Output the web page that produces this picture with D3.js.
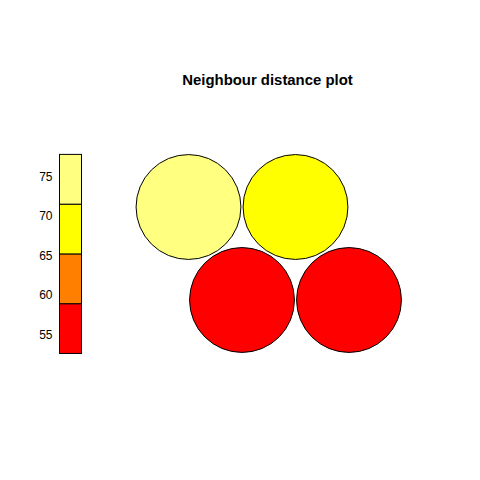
<!DOCTYPE html>
<html><head><meta charset="utf-8">
<script src="https://cdn.jsdelivr.net/npm/d3@7"></script>
<style>body{margin:0;background:#fff}svg{display:block}</style>
</head><body>
<script>
// data
const unitX = [1.5, 2.5, 1, 2];
const unitY = [0.866, 0.866, 1.732, 1.732];
const unitDist = [52.6, 53.5, 77.8, 70.1];
const palette = ["#FF0000", "#FF8000", "#FFFF00", "#FFFF80"];
const legendTicks = [55, 60, 65, 70, 75];
const title = "Neighbour distance plot";

const W = 480, H = 480;
const svg = d3.select("body").append("svg").attr("width", W).attr("height", H);
svg.append("rect").attr("width", W).attr("height", H).attr("fill", "#fff");

const x = d3.scaleLinear().domain([1, 2]).range([188.5, 295.5]);
const y = d3.scaleLinear().domain([0.866, 1.732]).range([300, 207]);
const r = x(1.49) - x(1);

const ext = d3.extent(unitDist);
const nb = palette.length;
const bins = d3.range(nb + 1).map(i => ext[0] + (ext[1] - ext[0]) * i / nb);
const colorOf = v => palette[Math.min(nb - 1, Math.floor((v - ext[0]) / (ext[1] - ext[0]) * nb))];

svg.append("text").attr("x", 267.5).attr("y", 84.5).attr("text-anchor", "middle")
  .attr("font-family", "Liberation Sans, Arial, sans-serif").attr("font-weight", "bold")
  .attr("font-size", 14.9).attr("fill", "#000").text(title);

svg.append("g").selectAll("circle").data(unitDist).join("circle")
  .attr("cx", (d, i) => x(unitX[i])).attr("cy", (d, i) => y(unitY[i])).attr("r", r)
  .attr("fill", d => colorOf(d)).attr("stroke", "#000").attr("stroke-width", 1);

// legend
const ly = d3.scaleLinear().domain([55, 75]).range([334.5, 176.5]);
const lx0 = 59.5, lx1 = 81.5;
const lg = svg.append("g");
lg.selectAll("rect").data(d3.range(nb)).join("rect")
  .attr("x", lx0).attr("width", lx1 - lx0)
  .attr("y", i => ly(bins[i + 1])).attr("height", i => ly(bins[i]) - ly(bins[i + 1]))
  .attr("fill", i => palette[i]).attr("stroke", "#000").attr("stroke-width", 1);
const axis = d3.axisLeft(ly).tickValues(legendTicks).tickSize(0).tickPadding(0);
const ag = svg.append("g").attr("transform", `translate(${lx0 - 7},0)`).call(axis);
ag.select(".domain").remove();
ag.selectAll("text").attr("font-family", "Liberation Sans, Arial, sans-serif")
  .attr("font-size", 12).attr("fill", "#000");
</script>
</body></html>
